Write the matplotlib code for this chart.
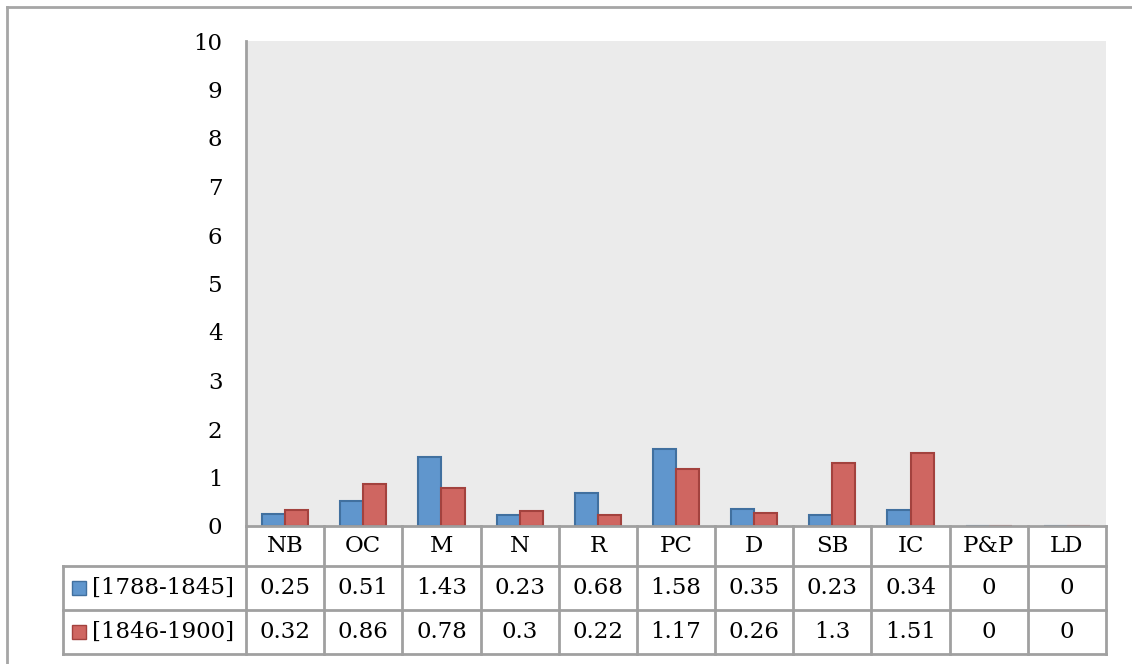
import matplotlib
matplotlib.use("Agg")
import matplotlib.pyplot as plt
from matplotlib.transforms import blended_transform_factory
from matplotlib.lines import Line2D
from matplotlib.patches import Rectangle
import numpy as np

categories = ["NB", "OC", "M", "N", "R", "PC", "D", "SB", "IC", "P&P", "LD"]
series_names = ["[1788-1845]", "[1846-1900]"]
s1 = [0.25, 0.51, 1.43, 0.23, 0.68, 1.58, 0.35, 0.23, 0.34, 0, 0]
s2 = [0.32, 0.86, 0.78, 0.3, 0.22, 1.17, 0.26, 1.3, 1.51, 0, 0]
s1_labels = ["0.25", "0.51", "1.43", "0.23", "0.68", "1.58", "0.35", "0.23", "0.34", "0", "0"]
s2_labels = ["0.32", "0.86", "0.78", "0.3", "0.22", "1.17", "0.26", "1.3", "1.51", "0", "0"]
yticks = list(range(0, 11))

W, H = 1132, 664
fig = plt.figure(figsize=(W / 100, H / 100), dpi=100)
plt.rcParams['font.family'] = ['DejaVu Serif']
FS = 16.5
grid_c = "#A0A0A0"

# outer border (only top/left visible)
fig.add_artist(Line2D([6.5 / W, 6.5 / W], [0, 1 - 6.5 / H], transform=fig.transFigure, color="#A6A6A6", lw=2))
fig.add_artist(Line2D([6.5 / W, 1], [1 - 6.5 / H, 1 - 6.5 / H], transform=fig.transFigure, color="#A6A6A6", lw=2))

px_l, px_r, px_t, px_b = 246, 1106, 41, 526
ax = fig.add_axes([px_l / W, 1 - px_b / H, (px_r - px_l) / W, (px_b - px_t) / H])
ax.set_facecolor("#EBEBEB")

x = np.arange(len(categories))
bw = 0.295
ax.bar(x - bw / 2, s1, bw, color="#6096CD", edgecolor="#41709F", linewidth=1.5, zorder=3)
ax.bar(x + bw / 2, s2, bw, color="#CF6661", edgecolor="#A3423E", linewidth=1.5, zorder=3)

ax.set_xlim(-0.5, len(categories) - 0.5)
ax.set_ylim(0, 10)
ax.set_yticks(yticks)
ax.set_yticklabels([str(t) for t in yticks], fontsize=FS)
ax.tick_params(axis="y", length=0, pad=17)
ax.set_xticks([])
for s in ["top", "right", "bottom"]:
    ax.spines[s].set_visible(False)
ax.spines["left"].set_color(grid_c)
ax.spines["left"].set_linewidth(2)

# table in blended coords: x data, y axes fraction
tr = blended_transform_factory(ax.transData, ax.transAxes)
ph = px_b - px_t
def yf(py):
    return (px_b - py) / ph
upp = (px_r - px_l) / len(categories)
def xd(px):
    return (px - px_l) / upp - 0.5

y_head_b, y_r1_b, y_r2_b = 566, 610, 654
x_lab_l = 63
lk = dict(color=grid_c, lw=2, transform=tr, clip_on=False, solid_capstyle="projecting", zorder=5)
ax.plot([-0.5, len(categories) - 0.5], [yf(px_b), yf(px_b)], **lk)
for yy in [y_head_b, y_r1_b, y_r2_b]:
    ax.plot([xd(x_lab_l), len(categories) - 0.5], [yf(yy), yf(yy)], **lk)
for i in range(len(categories) + 1):
    ax.plot([i - 0.5, i - 0.5], [yf(px_b), yf(y_r2_b)], **lk)
ax.plot([xd(x_lab_l), xd(x_lab_l)], [yf(y_head_b), yf(y_r2_b)], **lk)

yc_head = yf((px_b + y_head_b) / 2)
yc_r1 = yf((y_head_b + y_r1_b) / 2)
yc_r2 = yf((y_r1_b + y_r2_b) / 2)
for i, c in enumerate(categories):
    ax.text(i, yc_head, c, ha="center", va="center", fontsize=FS, transform=tr, clip_on=False)
    ax.text(i, yc_r1, s1_labels[i], ha="center", va="center", fontsize=FS, transform=tr, clip_on=False)
    ax.text(i, yc_r2, s2_labels[i], ha="center", va="center", fontsize=FS, transform=tr, clip_on=False)

for yc, name, fc, ec in [(yc_r1, series_names[0], "#6096CD", "#41709F"),
                         (yc_r2, series_names[1], "#CF6661", "#A3423E")]:
    sq = 14
    ax.add_patch(Rectangle((xd(72), yc - (sq / 2) / ph), sq / upp, sq / ph, transform=tr,
                           facecolor=fc, edgecolor=ec, lw=1, clip_on=False))
    ax.text(xd(92), yc, name, ha="left", va="center", fontsize=FS, transform=tr, clip_on=False)

fig.savefig("out.png", dpi=100)
